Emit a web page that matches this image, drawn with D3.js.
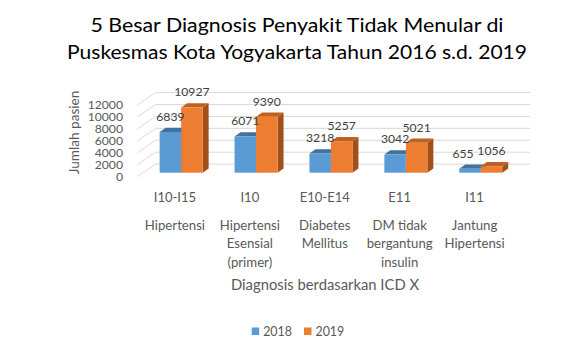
<!DOCTYPE html>
<html>
<head>
<meta charset="utf-8">
<script src="https://cdn.jsdelivr.net/npm/d3@7"></script>
<style>
  html, body { margin: 0; padding: 0; background: #fff; }
  text { font-family: Lato, "Open Sans", sans-serif; }
</style>
</head>
<body>
<svg id="chart" width="580" height="355"></svg>
<script>
// ---------------- DATA ----------------
const titleLines = ["5 Besar Diagnosis Penyakit Tidak Menular di",
                    "Puskesmas Kota Yogyakarta Tahun 2016 s.d. 2019"];
const codes = ["I10-I15", "I10", "E10-E14", "E11", "I11"];
const names = [["Hipertensi"], ["Hipertensi", "Esensial", "(primer)"],
               ["Diabetes", "Mellitus"], ["DM tidak", "bergantung", "insulin"],
               ["Jantung", "Hipertensi"]];
const seriesNames = ["2018", "2019"];
const values2018 = [6839, 6071, 3218, 3042, 655];
const values2019 = [10927, 9390, 5257, 5021, 1056];
const yTicks = [0, 2000, 4000, 6000, 8000, 10000, 12000];
const yTitle = "Jumlah pasien";
const xTitle = "Diagnosis berdasarkan ICD X";

// ---------------- LAYOUT ----------------
const svg = d3.select("#chart");
svg.append("rect").attr("width", 580).attr("height", 355).attr("fill", "#fff");

const colors = {
  "2018": { front: "#5B9BD5", top: "#41719C", side: "#3F6E99" },
  "2019": { front: "#ED7D31", top: "#C05F1E", side: "#A24F19" }
};

// front plane of the floor
const x = d3.scaleBand().domain(codes).range([137.5, 512]).paddingInner(0).paddingOuter(0);
const y = d3.scaleLinear().domain([0, 12000]).range([176.5, 105]);
const DX = 18, DY = -12.4;           // full floor depth
const bOff = [6.2, -3.8];            // bar front offset into depth
const bDep = [6, -4.3];              // bar depth
const barW = 21.5;

// gridlines (side wall + back wall)
const grid = svg.append("g");
yTicks.forEach(t => {
  const yy = y(t);
  grid.append("polyline")
    .attr("points", [[x.range()[0], yy], [x.range()[0] + DX, yy + DY], [x.range()[1] + DX, yy + DY]].map(p => p.join(",")).join(" "))
    .attr("fill", "none").attr("stroke", "#d9d9d9").attr("stroke-width", 1);
});

// y tick labels
svg.append("g").selectAll("text").data(yTicks).join("text")
  .attr("x", 123).attr("y", d => y(d)).attr("dy", "0.36em")
  .attr("text-anchor", "end").attr("font-size", 12.2).attr("fill", "#595959")
  .text(d => d);

// bars
const sub = d3.scaleBand().domain(seriesNames).range([-barW, barW]);
const series = [values2018, values2019];
const barsG = svg.append("g");
codes.forEach((c, i) => {
  const cx = x(c) + x.bandwidth() / 2 + bOff[0];
  seriesNames.forEach((s, k) => {
    const v = series[k][i];
    const x0 = cx + sub(s), x1 = x0 + sub.bandwidth();
    const yt = y(v) + bOff[1], yb = y(0) + bOff[1];
    const col = colors[s];
    const g = barsG.append("g");
    g.append("polygon").attr("points", [[x1, yt], [x1 + bDep[0], yt + bDep[1]], [x1 + bDep[0], yb + bDep[1]], [x1, yb]].join(" "))
      .attr("fill", col.side);
    g.append("polygon").attr("points", [[x0, yt], [x1, yt], [x1 + bDep[0], yt + bDep[1]], [x0 + bDep[0], yt + bDep[1]]].join(" "))
      .attr("fill", col.top);
    g.append("rect").attr("x", x0).attr("y", yt).attr("width", x1 - x0).attr("height", yb - yt)
      .attr("fill", col.front);
  });
});

// data labels
const labG = svg.append("g");
codes.forEach((c, i) => {
  const cx = x(c) + x.bandwidth() / 2 + bOff[0];
  seriesNames.forEach((s, k) => {
    const v = series[k][i];
    let lx = cx + sub(s) + sub.bandwidth() / 2;
    if (v < 1000) lx -= 7;
    labG.append("text")
      .attr("x", lx).attr("y", y(v) + bOff[1] - 15.5).attr("dy", "0.36em")
      .attr("text-anchor", "middle").attr("font-size", 12.2).attr("fill", "#404040")
      .text(v);
  });
});

// category labels
const catG = svg.append("g");
codes.forEach((c, i) => {
  const cx = x(c) + x.bandwidth() / 2;
  catG.append("text").attr("x", cx).attr("y", 197).attr("dy", "0.36em")
    .attr("text-anchor", "middle").attr("font-size", 13).attr("fill", "#595959").text(c);
  names[i].forEach((line, j) => {
    catG.append("text").attr("x", cx).attr("y", 225 + j * 18.5).attr("dy", "0.36em")
      .attr("text-anchor", "middle").attr("font-size", 13.2).attr("fill", "#595959").text(line);
  });
});

// axis titles
svg.append("text").attr("x", 325).attr("y", 285).attr("dy", "0.36em")
  .attr("text-anchor", "middle").attr("font-size", 14.8).attr("fill", "#595959").text(xTitle);
svg.append("text").attr("transform", "translate(74,132.5) rotate(-90)").attr("dy", "0.36em")
  .attr("text-anchor", "middle").attr("font-size", 13.6).attr("fill", "#595959").text(yTitle);

// title
const tW = [413, 460];
titleLines.forEach((t, i) => {
  svg.append("text").attr("x", 297).attr("y", 25 + i * 27).attr("dy", "0.36em")
    .attr("text-anchor", "middle").attr("font-size", 18.5).attr("fill", "#000")
    .attr("textLength", tW[i]).attr("lengthAdjust", "spacingAndGlyphs")
    .text(t);
});

// legend
const leg = svg.append("g");
const legX = [251.7, 304];
seriesNames.forEach((s, k) => {
  leg.append("rect").attr("x", legX[k]).attr("y", 327.5).attr("width", 7.5).attr("height", 7.5)
    .attr("fill", colors[s].front);
  leg.append("text").attr("x", legX[k] + 11.5).attr("y", 331.2).attr("dy", "0.36em")
    .attr("font-size", 12.4).attr("fill", "#595959").text(s);
});
</script>
</body>
</html>
